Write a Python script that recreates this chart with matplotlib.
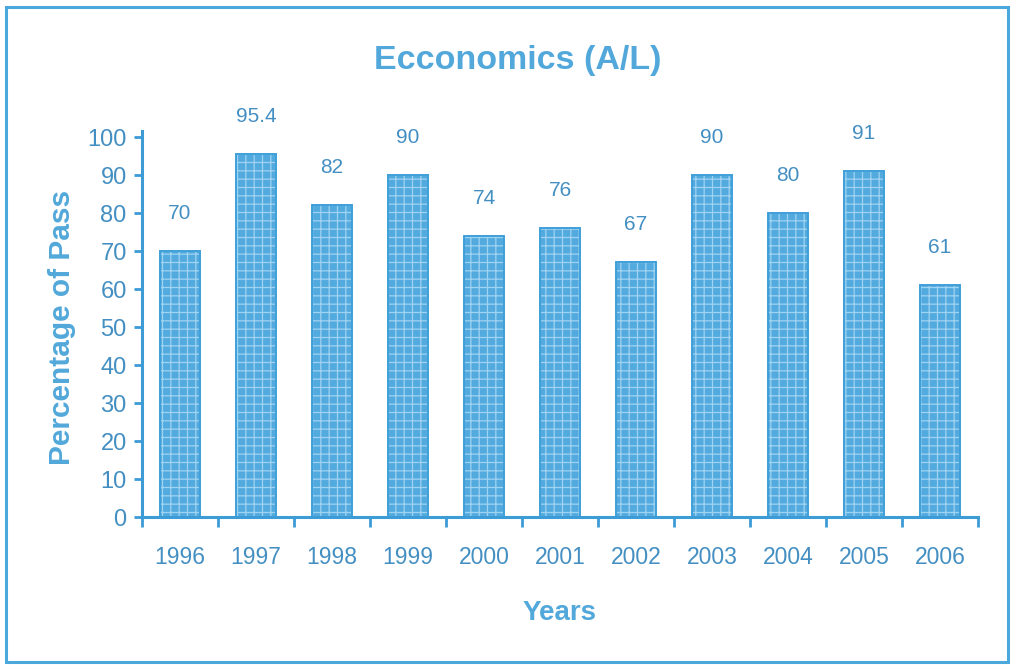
import matplotlib
matplotlib.use("Agg")
import matplotlib.pyplot as plt
from matplotlib.patches import Rectangle
import numpy as np

years = ["1996", "1997", "1998", "1999", "2000", "2001", "2002", "2003", "2004", "2005", "2006"]
pass_pct = [70, 95.4, 82, 90, 74, 76, 67, 90, 80, 91, 61]
value_labels = ["70", "95.4", "82", "90", "74", "76", "67", "90", "80", "91", "61"]
yticks = [0, 10, 20, 30, 40, 50, 60, 70, 80, 90, 100]

AX_COLOR = "#3d9bd6"
TXT_COLOR = "#448fc2"
TITLE_COLOR = "#52a8da"
BAR_COLOR = "#52aadf"

font = ["Liberation Sans", "DejaVu Sans"]

plt.rcParams["hatch.linewidth"] = 0.9

fig = plt.figure(figsize=(10.14, 6.67), dpi=100)
fig.patch.set_facecolor("white")
fig.add_artist(Rectangle((6 / 1014, 5 / 667), 1002 / 1014, 655 / 667,
                         transform=fig.transFigure, fill=False,
                         edgecolor="#4aa8dc", linewidth=2.2))

ax = fig.add_axes([142 / 1014, 1 - 517 / 667, (978 - 142) / 1014, (517 - 137) / 667])
x = np.arange(len(years))
# base fill
ax.bar(x, pass_pct, width=0.52, color=BAR_COLOR, linewidth=0, zorder=2)
# light texture
ax.bar(x, pass_pct, width=0.52, fill=False, edgecolor="#9fd3f1", linewidth=0,
       hatch="++", zorder=3)
# outline
ax.bar(x, pass_pct, width=0.52, fill=False, edgecolor="#3f9fd8", linewidth=1.4, zorder=4)

for xi, v, lab in zip(x, pass_pct, value_labels):
    ax.annotate(lab, (xi, v), xytext=(0, 27), textcoords="offset points",
                ha="center", va="center", fontsize=15, color=TXT_COLOR,
                family=font, annotation_clip=False)

ax.set_xlim(-0.5, len(years) - 0.5)
ax.set_ylim(0, 100)
ax.set_yticks(yticks)
ax.set_yticklabels([str(t) for t in yticks], family=font, fontsize=17, color=TXT_COLOR)
ax.set_xticks(x)
ax.set_xticklabels(years, family=font, fontsize=16.5, color=TXT_COLOR)
ax.set_xticks(np.arange(-0.5, len(years)), minor=True)
ax.tick_params(axis="x", which="major", length=0, pad=21)
ax.tick_params(axis="x", which="minor", length=7, width=2, color=AX_COLOR, direction="out")
ax.tick_params(axis="y", length=6, width=2, color=AX_COLOR, direction="out", pad=5)

for s in ["top", "right"]:
    ax.spines[s].set_visible(False)
for s in ["left", "bottom"]:
    ax.spines[s].set_color(AX_COLOR)
    ax.spines[s].set_linewidth(2.2)
    ax.spines[s].set_zorder(5)
ax.spines["left"].set_bounds(0, 101.5)

ax.set_xlabel("Years", family=font, fontweight="bold", fontsize=20, color=TITLE_COLOR, labelpad=22)
ax.set_ylabel("Percentage of Pass", family=font, fontweight="bold", fontsize=21.5,
              color=TITLE_COLOR, labelpad=8)
fig.text(518 / 1014, 1 - 60 / 667, "Ecconomics (A/L)", family=font, fontweight="bold",
         fontsize=24.5, color=TITLE_COLOR, ha="center", va="center")

fig.savefig("out.png", dpi=100)
